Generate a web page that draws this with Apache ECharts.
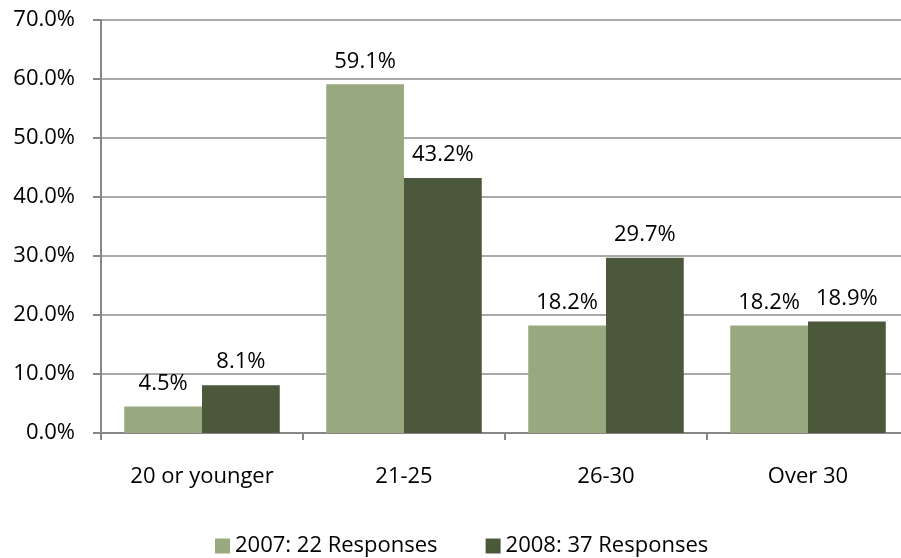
<!DOCTYPE html>
<html>
<head>
<meta charset="utf-8">
<script src="https://cdn.jsdelivr.net/npm/echarts@6/dist/echarts.min.js"></script>
<style>
  html, body { margin: 0; padding: 0; background: #fff; overflow: hidden; }
  #chart { width: 909px; height: 558px; }
</style>
</head>
<body>
<div id="chart"></div>
<script>
// 年龄分组
const categories = ['20 or younger', '21-25', '26-30', 'Over 30'];
const seriesNames = ['2007: 22 Responses', '2008: 37 Responses'];
const values2007 = [4.5, 59.1, 18.2, 18.2];
const values2008 = [8.1, 43.2, 29.7, 18.9];
const yTicks = [0, 10, 20, 30, 40, 50, 60, 70];

const fontFamily = 'Open Sans';
const fontSize = 22;
const textColor = '#000';

const chart = echarts.init(document.getElementById('chart'));
const option = {
  animation: false,
  textStyle: { fontFamily: fontFamily },
  grid: { left: 101, right: 0, top: 20, bottom: 125 },
  legend: {
    top: 530,
    left: 210,
    itemWidth: 15,
    itemHeight: 15,
    itemGap: 48,
    icon: 'rect',
    textStyle: { fontSize: fontSize, color: textColor, fontFamily: fontFamily },
    data: seriesNames
  },
  xAxis: {
    type: 'category',
    data: categories,
    axisLine: { lineStyle: { color: '#868686', width: 2 } },
    axisTick: { show: true, length: 7, alignWithLabel: false, lineStyle: { color: '#868686', width: 2 } },
    axisLabel: { margin: 33, fontSize: fontSize, color: textColor, fontFamily: fontFamily }
  },
  yAxis: {
    type: 'value',
    min: yTicks[0],
    max: yTicks[yTicks.length - 1],
    interval: 10,
    axisLine: { show: true, lineStyle: { color: '#868686', width: 2 } },
    axisTick: { show: true, length: 8, lineStyle: { color: '#868686', width: 2 } },
    axisLabel: {
      margin: 26,
      fontSize: fontSize,
      color: textColor,
      fontFamily: fontFamily,
      formatter: v => v.toFixed(1) + '%'
    },
    splitLine: { show: true, lineStyle: { color: '#8c8c8c', width: 1.5 } }
  },
  series: [
    {
      name: seriesNames[0],
      type: 'bar',
      data: values2007,
      barGap: '0%',
      barCategoryGap: '23%',
      itemStyle: { color: '#99a97f' },
      label: {
        show: true,
        position: 'top',
        distance: 12,
        fontSize: fontSize,
        color: textColor,
        fontFamily: fontFamily,
        formatter: p => p.value.toFixed(1) + '%'
      }
    },
    {
      name: seriesNames[1],
      type: 'bar',
      data: values2008,
      barGap: '0%',
      barCategoryGap: '23%',
      itemStyle: { color: '#4b583c' },
      label: {
        show: true,
        position: 'top',
        distance: 12,
        fontSize: fontSize,
        color: textColor,
        fontFamily: fontFamily,
        formatter: p => p.value.toFixed(1) + '%'
      }
    }
  ]
};
chart.setOption(option);
</script>
</body>
</html>
